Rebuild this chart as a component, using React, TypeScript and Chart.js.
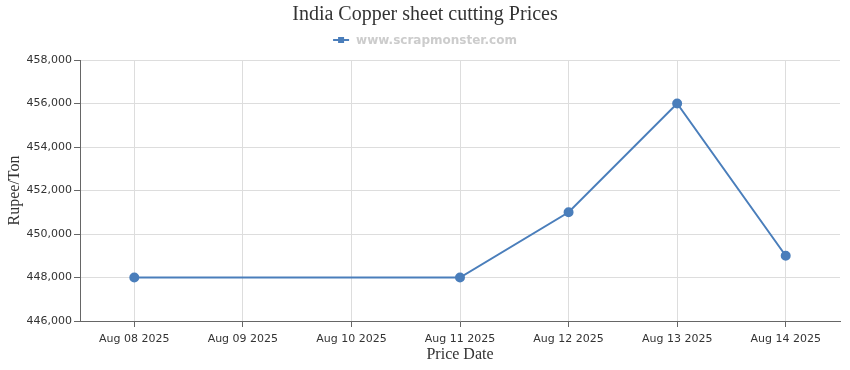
import React, { useEffect, useRef } from "react";
import { Chart, registerables } from "chart.js";

Chart.register(...registerables);

const categories = ["Aug 08 2025", "Aug 09 2025", "Aug 10 2025", "Aug 11 2025", "Aug 12 2025", "Aug 13 2025", "Aug 14 2025"];
const prices: (number | null)[] = [448000, null, null, 448000, 451000, 456000, 449000];
const yTicks = [446000, 448000, 450000, 452000, 454000, 456000, 458000];
const chartTitle = "India Copper sheet cutting Prices";
const legendLabel = "www.scrapmonster.com";
const yTitle = "Rupee/Ton";
const xTitle = "Price Date";

const LINE = "#4a7ebb";

const headerPlugin = {
  id: "header",
  afterDraw(chart: any) {
    const ctx = chart.ctx;
    const cx = chart.width / 2;
    ctx.save();
    ctx.fillStyle = "#333";
    ctx.font = "20px 'Liberation Serif', serif";
    ctx.textAlign = "center";
    ctx.textBaseline = "middle";
    ctx.fillText(chartTitle, cx, 15);

    ctx.font = "bold 12px 'DejaVu Sans', sans-serif";
    const tw = ctx.measureText(legendLabel).width;
    const markW = 16;
    const gap = 7;
    const total = markW + gap + tw;
    const x0 = cx - total / 2;
    const y = 40;
    ctx.strokeStyle = LINE;
    ctx.lineWidth = 2;
    ctx.beginPath();
    ctx.moveTo(x0, y);
    ctx.lineTo(x0 + markW, y);
    ctx.stroke();
    ctx.fillStyle = LINE;
    ctx.fillRect(x0 + markW / 2 - 3, y - 3, 6, 6);
    ctx.fillStyle = "#cccccc";
    ctx.textAlign = "left";
    ctx.fillText(legendLabel, x0 + markW + gap, y + 0.5);
    ctx.restore();
  },
};

export default function App() {
  const ref = useRef<HTMLCanvasElement>(null);
  useEffect(() => {
    document.body.style.margin = "0";
    const chart = new Chart(ref.current!, {
      type: "line",
      data: {
        labels: categories,
        datasets: [
          {
            label: legendLabel,
            data: prices,
            borderColor: LINE,
            backgroundColor: LINE,
            pointBackgroundColor: LINE,
            pointBorderColor: LINE,
            pointRadius: 4,
            borderWidth: 2,
            spanGaps: true,
            tension: 0,
          },
        ],
      },
      options: {
        animation: false,
        responsive: false,
        layout: { padding: { top: 60, right: 10, left: 0, bottom: 0 } },
        plugins: {
          legend: { display: false },
          title: { display: false },
          tooltip: { enabled: false },
        },
        scales: {
          x: {
            offset: true,
            grid: { offset: false, color: "#dddddd", tickColor: "#666666", tickLength: 6 },
            border: { color: "#666666" },
            ticks: {
              color: "#333333",
              font: { family: "'DejaVu Sans', sans-serif", size: 11 },
              padding: 6,
              maxRotation: 0,
              autoSkip: false,
            },
            title: {
              display: true,
              text: xTitle,
              color: "#333333",
              font: { family: "'Liberation Serif', serif", size: 16 },
              padding: { top: 0, bottom: 6 },
            },
            afterFit(scale: any) {
              scale.height = 49;
            },
          },
          y: {
            min: 446000,
            max: 458000,
            afterBuildTicks(scale: any) {
              scale.ticks = yTicks.map((v) => ({ value: v }));
            },
            grid: { color: "#dddddd", tickColor: "#666666", tickLength: 6 },
            border: { color: "#666666" },
            ticks: {
              color: "#333333",
              font: { family: "'DejaVu Sans', sans-serif", size: 11 },
              padding: 2,
              callback: (v: any) => Number(v).toLocaleString("en-US"),
            },
            title: {
              display: true,
              text: yTitle,
              color: "#333333",
              font: { family: "'Liberation Serif', serif", size: 16 },
              padding: { top: 5, bottom: 0 },
            },
            afterFit(scale: any) {
              scale.width = 80;
            },
          },
        },
      },
      plugins: [headerPlugin],
    });
    return () => chart.destroy();
  }, []);
  return (
    <div style={{ width: 850, height: 370 }}>
      <canvas ref={ref} width={850} height={370} />
    </div>
  );
}
